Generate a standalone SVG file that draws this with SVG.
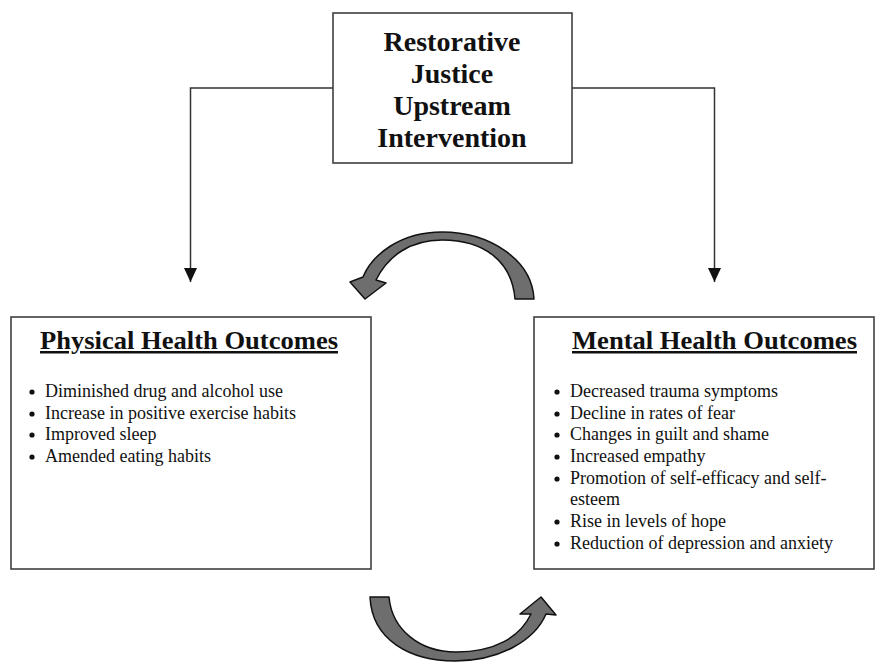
<svg xmlns="http://www.w3.org/2000/svg" width="884" height="662" viewBox="0 0 884 662">
<defs>
<style>
.box{fill:#fff;stroke:#333;stroke-width:1.5}
.title{font-family:"Liberation Serif","Times New Roman",serif;font-weight:bold;font-size:28px;fill:#111;text-anchor:middle}
.head{font-family:"Liberation Serif","Times New Roman",serif;font-weight:bold;font-size:25px;fill:#111;text-decoration:underline}
.item{font-family:"Liberation Serif","Times New Roman",serif;font-size:18px;fill:#111}
.conn{fill:none;stroke:#333;stroke-width:1.5}
.curve{fill:#6e6e6e;stroke:#111;stroke-width:1.5;stroke-linejoin:round}
.dot{fill:#111}
</style>
<marker id="ah" viewBox="0 0 14 13" refX="14" refY="6.5" markerWidth="14" markerHeight="13" markerUnits="userSpaceOnUse" orient="auto">
<path d="M0 0 L14 6.5 L0 13 Z" fill="#111"/>
</marker>
</defs>
<rect width="884" height="662" fill="#fff"/>

<g id="connectors">
<path class="conn" d="M333 88 H190.5 V282" marker-end="url(#ah)"/>
<path class="conn" d="M572 88 H714.5 V282" marker-end="url(#ah)"/>
<path class="curve" d="M534 299 C532 260 490 232 442 232 C400 232 372 255 363 277 L350 282 L365 299 L386 283 L376 280 C388 256 410 240 442 240 C485 240 512 262 515 299 Z"/>
<path class="curve" d="M370 597 C372 640 410 661 455 661 C500 661 535 640 546 614 L556 615 L541 597 L520 614 L531 614 C520 637 495 652 456 652 C420 652 392 630 389 597 Z"/>
</g>

<g id="intervention">
<rect class="box" x="333" y="13" width="239" height="150"/>
<text class="title" x="452" y="51">Restorative</text>
<text class="title" x="452" y="83">Justice</text>
<text class="title" x="452" y="115">Upstream</text>
<text class="title" x="452" y="147">Intervention</text>
</g>

<g id="physical">
<rect class="box" x="11" y="317" width="360" height="252"/>
<text class="head" x="40" y="349" textLength="298" lengthAdjust="spacingAndGlyphs">Physical Health Outcomes</text>
<circle class="dot" cx="32" cy="392" r="2.6"/>
<circle class="dot" cx="32" cy="414" r="2.6"/>
<circle class="dot" cx="32" cy="435" r="2.6"/>
<circle class="dot" cx="32" cy="457" r="2.6"/>
<text class="item" x="45" y="397">Diminished drug and alcohol use</text>
<text class="item" x="45" y="419">Increase in positive exercise habits</text>
<text class="item" x="45" y="440">Improved sleep</text>
<text class="item" x="45" y="462">Amended eating habits</text>
</g>

<g id="mental">
<rect class="box" x="534" y="317" width="340" height="252"/>
<text class="head" x="572" y="349" textLength="285" lengthAdjust="spacingAndGlyphs">Mental Health Outcomes</text>
<circle class="dot" cx="557" cy="392" r="2.6"/>
<circle class="dot" cx="557" cy="414" r="2.6"/>
<circle class="dot" cx="557" cy="435" r="2.6"/>
<circle class="dot" cx="557" cy="457" r="2.6"/>
<circle class="dot" cx="557" cy="479" r="2.6"/>
<circle class="dot" cx="557" cy="522" r="2.6"/>
<circle class="dot" cx="557" cy="544" r="2.6"/>
<text class="item" x="570" y="397">Decreased trauma symptoms</text>
<text class="item" x="570" y="419">Decline in rates of fear</text>
<text class="item" x="570" y="440">Changes in guilt and shame</text>
<text class="item" x="570" y="462">Increased empathy</text>
<text class="item" x="570" y="484">Promotion of self-efficacy and self-</text>
<text class="item" x="570" y="505">esteem</text>
<text class="item" x="570" y="527">Rise in levels of hope</text>
<text class="item" x="570" y="549">Reduction of depression and anxiety</text>
</g>
</svg>
